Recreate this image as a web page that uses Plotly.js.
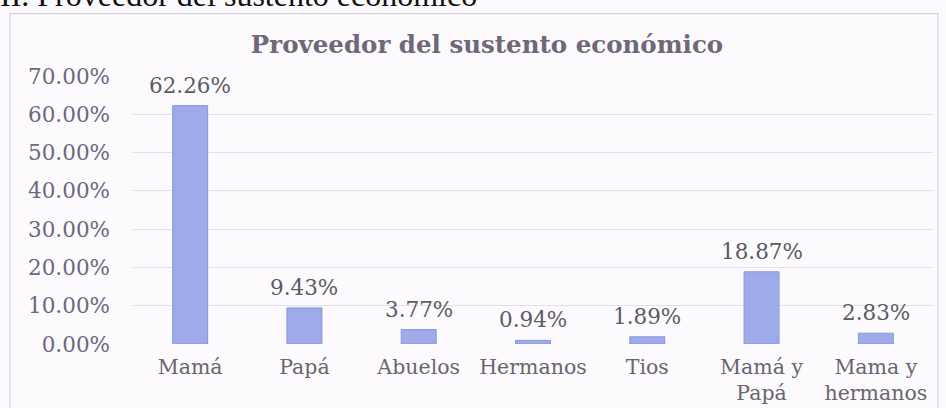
<!DOCTYPE html>
<html>
<head>
<meta charset="utf-8">
<script src="https://cdn.plot.ly/plotly-3.0.1.min.js"></script>
<style>
  html, body { margin: 0; padding: 0; background: #fcfafc; }
  #chart { width: 946px; height: 408px; }
</style>
</head>
<body>
<div id="chart"></div>
<script>
const categories = ["Mamá", "Papá", "Abuelos", "Hermanos", "Tios", "Mamá y<br>Papá", "Mama y<br>hermanos"];
const values = [0.6226, 0.0943, 0.0377, 0.0094, 0.0189, 0.1887, 0.0283];
const valueLabels = ["62.26%", "9.43%", "3.77%", "0.94%", "1.89%", "18.87%", "2.83%"];
const yTickValues = [0, 0.1, 0.2, 0.3, 0.4, 0.5, 0.6, 0.7];
const yTickLabels = ["0.00%", "10.00%", "20.00%", "30.00%", "40.00%", "50.00%", "60.00%", "70.00%"];
const chartTitle = "Proveedor del sustento económico";
const pageHeading = "II. Proveedor del sustento económico";

const W = 946, H = 408;
const L = 133, R = 13, T = 75.5, B = 64;
const pw = W - L - R, ph = H - T - B;
const px2x = p => (p - L) / pw;
const py2y = p => (H - B - p) / ph;

const trace = {
  type: "bar",
  x: categories,
  y: values,
  marker: { color: "#9dabe8", line: { color: "#8797dc", width: 1 } },
  hoverinfo: "skip"
};

const labelAnnotations = categories.map((c, i) => ({
  x: c, y: values[i], xref: "x", yref: "y",
  text: valueLabels[i], showarrow: false,
  yanchor: "bottom", yshift: 6,
  font: { family: "DejaVu Serif", size: 21.5, color: "#5c5a66" }
}));

const layout = {
  width: W, height: H,
  margin: { l: L, r: R, t: T, b: B, pad: 0 },
  paper_bgcolor: "#fcfafc",
  plot_bgcolor: "rgba(0,0,0,0)",
  showlegend: false,
  bargap: 0.694,
  xaxis: {
    type: "category",
    showgrid: false, zeroline: false, showline: false,
    ticks: "", ticklabelstandoff: 8,
    tickfont: { family: "DejaVu Serif", size: 20.5, color: "#6a6470" }
  },
  yaxis: {
    range: [0, 0.7],
    tickvals: yTickValues, ticktext: yTickLabels,
    showgrid: true, gridcolor: "#e2e0e6", gridwidth: 1,
    zeroline: false, showline: false, ticks: "",
    ticklabelstandoff: 22,
    tickfont: { family: "DejaVu Serif", size: 21.5, color: "#6b6880" }
  },
  title: {
    text: "<b>" + chartTitle + "</b>",
    font: { family: "DejaVu Serif", size: 24.5, color: "#6e6878" },
    x: px2x(487), xanchor: "center", xref: "paper",
    y: 1 - 44 / H, yanchor: "middle"
  },
  shapes: [{
    type: "rect", xref: "paper", yref: "paper",
    x0: px2x(10), x1: px2x(938), y0: py2y(412), y1: py2y(13),
    line: { color: "#d6d2e0", width: 1.2 }, fillcolor: "rgba(0,0,0,0)", layer: "below"
  }],
  annotations: labelAnnotations.concat([{
    xref: "paper", yref: "paper",
    x: px2x(-2), y: py2y(14), xanchor: "left", yanchor: "bottom",
    text: pageHeading, showarrow: false,
    font: { family: "Liberation Serif", size: 32, color: "#111111" }
  }])
};

Plotly.newPlot("chart", [trace], layout, { staticPlot: true, displayModeBar: false });
</script>
</body>
</html>
